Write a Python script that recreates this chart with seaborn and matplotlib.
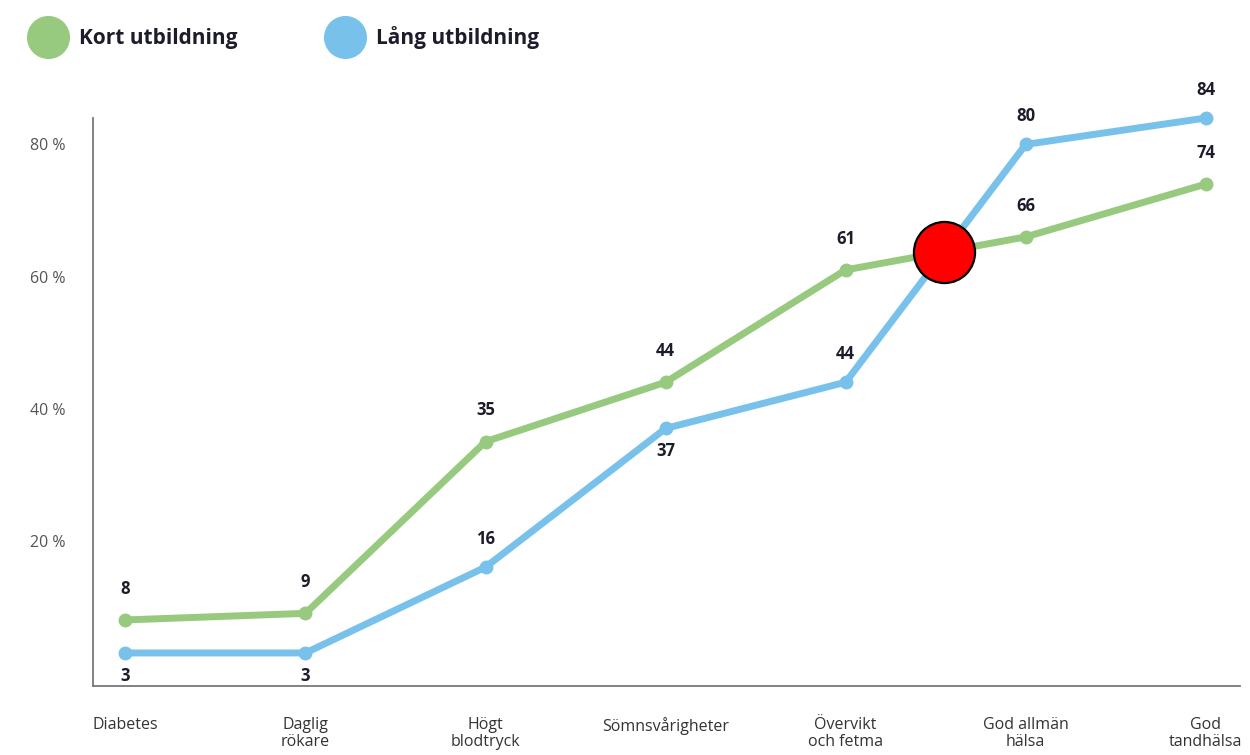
import numpy as np
import pandas as pd
import matplotlib
matplotlib.use("Agg")
import matplotlib.pyplot as plt
from matplotlib.lines import Line2D
import seaborn as sns

categories = ["Diabetes", "Daglig\nrökare", "Högt\nblodtryck", "Sömnsvårigheter",
              "Övervikt\noch fetma", "God allmän\nhälsa", "God\ntandhälsa"]
kort = [8, 9, 35, 44, 61, 66, 74]
lang = [3, 3, 16, 37, 44, 80, 84]
series_names = ["Kort utbildning", "Lång utbildning"]
yticks = [20, 40, 60, 80]
ytick_labels = ["20 %", "40 %", "60 %", "80 %"]

GREEN = "#97C97F"
BLUE = "#78C1EB"
TEXT = "#1c1c2a"

sns.set_theme(style="white")
plt.rcParams["font.family"] = ["Open Sans", "DejaVu Sans"]

df = pd.DataFrame({
    "pos": list(range(len(categories))) * 2,
    "value": kort + lang,
    "group": [series_names[0]] * len(kort) + [series_names[1]] * len(lang),
})

fig = plt.figure(figsize=(12.5, 7.55), dpi=100)
ax = fig.add_axes([0.0744, 0.0914, 0.9176, 0.7523])

sns.lineplot(data=df, x="pos", y="value", hue="group",
             palette={series_names[0]: GREEN, series_names[1]: BLUE},
             hue_order=series_names[::-1],
             marker="o", markersize=10, markeredgewidth=0, linewidth=5,
             ax=ax, legend=False, clip_on=False, solid_capstyle="round")

# value labels
for i, (g, b) in enumerate(zip(kort, lang)):
    ax.annotate(str(g), (i, g), xytext=(0, 16), textcoords="offset points",
                ha="center", va="bottom", fontsize=12, fontweight="bold", color=TEXT)
    if 0 <= g - b < 10:
        ax.annotate(str(b), (i, b), xytext=(0, -10), textcoords="offset points",
                    ha="center", va="top", fontsize=12, fontweight="bold", color=TEXT)
    else:
        ax.annotate(str(b), (i, b), xytext=(0, 14), textcoords="offset points",
                    ha="center", va="bottom", fontsize=12, fontweight="bold", color=TEXT)

# crossing point highlight (computed from data)
k = np.array(kort, float)
l = np.array(lang, float)
d = l - k
for i in range(len(d) - 1):
    if d[i] < 0 <= d[i + 1]:
        t = -d[i] / (d[i + 1] - d[i])
        xc = i + t
        yc = k[i] + t * (k[i + 1] - k[i])
        ax.plot([xc], [yc], marker="o", markersize=44, markerfacecolor="#ff0000",
                markeredgecolor="black", markeredgewidth=1.6, linestyle="none",
                zorder=10, clip_on=False)

ax.set_xlim(-0.18, 6.19)
ax.set_ylim(-2, 84)
ax.set_xticks(range(len(categories)))
ax.set_xticklabels(categories, fontsize=11.5, color="#333333", linespacing=1.1)
ax.set_yticks(yticks)
ax.set_yticklabels(ytick_labels, fontsize=11.5, color="#555555")
ax.tick_params(axis="x", length=0, pad=22)
ax.tick_params(axis="y", length=0, pad=20)
ax.set_xlabel("")
ax.set_ylabel("")
for s in ["top", "right"]:
    ax.spines[s].set_visible(False)
for s in ["left", "bottom"]:
    ax.spines[s].set_color("#777777")
    ax.spines[s].set_linewidth(1.3)

handles = [Line2D([], [], marker="o", linestyle="none", markersize=31,
                  markerfacecolor=c, markeredgewidth=0) for c in (GREEN, BLUE)]
leg = fig.legend(handles, series_names, loc="upper left", bbox_to_anchor=(0.007, 0.99),
                 ncol=2, frameon=False, handletextpad=0.45, columnspacing=4.2,
                 prop={"family": ["Open Sans", "DejaVu Sans"], "weight": "bold", "size": 15})
for t in leg.get_texts():
    t.set_color(TEXT)

fig.savefig("out.png", dpi=100, facecolor="white")
